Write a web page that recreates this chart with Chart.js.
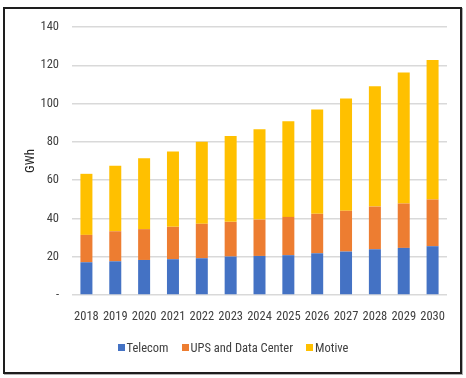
<!DOCTYPE html>
<html>
<head>
<meta charset="utf-8">
<script src="https://cdn.jsdelivr.net/npm/chart.js@4.4.1/dist/chart.umd.min.js"></script>
<style>
  html, body { margin: 0; padding: 0; background: #ffffff; }
  #wrap { position: relative; width: 466px; height: 378px; overflow: hidden; }
  #c { position: absolute; left: 0; top: 0; }
  #frame { position: absolute; left: 3px; top: 7px; width: 455px; height: 363px;
           border: 2px solid #1e1e1e; box-shadow: 1px 1px 0 #b0b0b0; pointer-events: none; }
  #legend { position: absolute; left: 0; width: 466px; top: 339px; height: 16px; display: flex;
            justify-content: center; align-items: center; gap: 13px;
            font-family: "Roboto Condensed", Roboto, sans-serif;
            font-size: 12.5px; color: #404040; white-space: nowrap; }
  .item { display: flex; align-items: center; }
  .sw { width: 7px; height: 7px; margin-right: 2px; }
</style>
</head>
<body>
<div id="wrap">
  <canvas id="c" width="466" height="378"></canvas>
  <div id="frame"></div>
  <div id="legend"></div>
</div>
<script>
const years = ["2018","2019","2020","2021","2022","2023","2024","2025","2026","2027","2028","2029","2030"];
const telecom = [17.1, 17.6, 18.3, 18.7, 19.2, 20.1, 20.4, 20.8, 21.8, 22.7, 23.9, 24.6, 25.5];
const upsDataCenter = [14.3, 15.7, 16.1, 16.9, 18.0, 18.1, 19.0, 20.0, 20.6, 21.3, 22.3, 23.2, 24.4];
const motive = [31.9, 34.2, 37.0, 39.4, 42.8, 44.8, 47.2, 49.9, 54.5, 58.6, 62.8, 68.4, 72.8];
const yTicks = [0, 20, 40, 60, 80, 100, 120, 140];
const seriesNames = ["Telecom", "UPS and Data Center", "Motive"];
const seriesColors = ["#4472C4", "#ED7D31", "#FFC000"];

const FONT = "'Roboto Condensed', Roboto, sans-serif";
const seriesData = [telecom, upsDataCenter, motive];

const chart = new Chart(document.getElementById("c"), {
  type: "bar",
  data: {
    labels: years,
    datasets: seriesNames.map((n, i) => ({
      label: n,
      data: seriesData[i],
      backgroundColor: seriesColors[i],
      borderWidth: 0,
      categoryPercentage: 0.8,
      barPercentage: 0.52
    }))
  },
  options: {
    responsive: false,
    animation: false,
    layout: { padding: { left: 23, top: 27, right: 19, bottom: 53 } },
    plugins: { legend: { display: false }, tooltip: { enabled: false } },
    scales: {
      x: {
        stacked: true,
        grid: { display: false },
        border: { display: false },
        ticks: { color: "#404040", font: { family: FONT, size: 12.5 }, padding: 6,
                 maxRotation: 0, autoSkip: false },
        afterFit: s => { s.height = 30; }
      },
      y: {
        stacked: true,
        min: 0, max: 140,
        afterBuildTicks: s => { s.ticks = yTicks.map(v => ({ value: v })); },
        grid: { color: "#d9d9d9", lineWidth: 1.5, drawTicks: false },
        border: { display: false },
        ticks: { color: "#404040", font: { family: FONT, size: 12.5 }, padding: 13,
                 callback: v => v === 0 ? "-" : String(v) },
        title: { display: true, text: "GWh", color: "#262626", font: { family: FONT, size: 13 }, padding: 0 },
        afterFit: s => { s.width = 49; }
      }
    }
  }
});

const leg = document.getElementById("legend");
chart.data.datasets.forEach(ds => {
  const it = document.createElement("div");
  it.className = "item";
  const sw = document.createElement("span");
  sw.className = "sw";
  sw.style.background = ds.backgroundColor;
  const tx = document.createElement("span");
  tx.textContent = ds.label;
  it.appendChild(sw); it.appendChild(tx);
  leg.appendChild(it);
});
</script>
</body>
</html>
